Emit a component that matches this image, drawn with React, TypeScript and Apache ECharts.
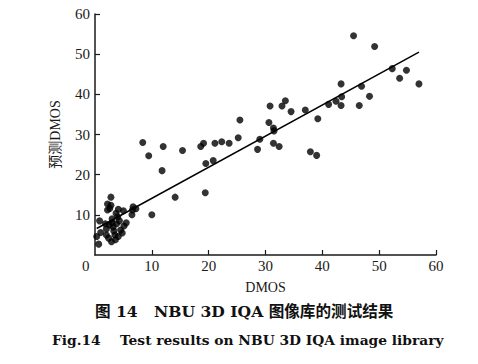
import React, { useEffect, useRef } from "react";
import * as echarts from "echarts";

// DMOS (x) vs predicted DMOS (y) scatter points
const dmos: number[] = [
  0.3, 0.65, 1.0, 0.8, 2.2, 2.8, 2.8, 2.2, 2.6, 4.1, 5.0, 6.5, 7.2, 6.6, 3.7, 5.1, 4.1, 2.9, 2.0, 2.5,
  3.0, 3.3, 3.5, 2.4, 3.8, 4.3, 3.0, 4.5, 3.6, 2.0, 4.8, 3.2, 4.0, 1.8, 5.5, 6.7,
  8.4, 9.45, 12.0, 11.8, 15.4, 14.1, 10.0, 18.6, 19.1, 19.5, 19.4, 20.8, 21.1, 22.3, 23.6, 25.2, 25.5,
  28.6, 29.0, 30.8, 32.9, 33.5, 34.5, 30.6, 31.4, 31.5, 37.0, 39.2, 41.1, 42.4, 43.3, 43.4, 43.3, 46.5,
  31.4, 32.4, 37.9, 39.0, 45.5, 49.2, 52.3, 54.8, 53.6, 57.0, 46.9, 48.3,
];
const predicted: number[] = [
  4.6, 2.7, 5.6, 8.5, 12.7, 12.4, 14.4, 11.2, 11.6, 11.4, 11.0, 10.0, 11.5, 11.2, 10.4, 7.2, 4.6, 3.3, 6.5, 7.5,
  8.0, 6.0, 5.0, 4.2, 7.8, 8.5, 9.0, 6.2, 3.8, 5.0, 5.5, 7.0, 9.5, 7.8, 8.0, 12.0,
  28.0, 24.7, 27.0, 21.0, 26.0, 14.4, 10.0, 27.0, 27.8, 22.8, 15.5, 23.5, 27.8, 28.2, 27.8, 29.2, 33.6,
  26.3, 28.8, 37.1, 37.1, 38.4, 35.7, 33.0, 31.6, 30.9, 36.1, 33.9, 37.5, 38.3, 37.2, 39.4, 42.6, 37.2,
  27.8, 27.0, 25.7, 24.8, 54.6, 51.9, 46.4, 46.0, 44.0, 42.6, 42.0, 39.5,
];
// fitted line end points
const fitX: number[] = [0.3, 57];
const fitY: number[] = [6.6, 50.5];

const axisTicks: number[] = [0, 10, 20, 30, 40, 50, 60];

const captionCN = "图 14   NBU 3D IQA 图像库的测试结果";
const captionEN = "Fig.14    Test results on NBU 3D IQA image library";

const FONT = "'Liberation Serif', 'Times New Roman', serif";
const CAP_FONT = "'DejaVu Serif', 'Noto Sans CJK SC', serif";

export default function App() {
  const ref = useRef<HTMLDivElement>(null);
  useEffect(() => {
    if (!ref.current) return;
    const chart = echarts.init(ref.current, null, { renderer: "svg" });
    const pts = dmos.map((x, i) => [x, predicted[i]]);
    const line = fitX.map((x, i) => [x, fitY[i]]);
    const axisCommon = {
      min: axisTicks[0],
      max: axisTicks[axisTicks.length - 1],
      interval: 10,
      splitLine: { show: false },
      axisLine: { show: true, onZero: false, lineStyle: { color: "#1a1a1a", width: 1.5 } },
      axisTick: { show: true, inside: true, length: 5, lineStyle: { color: "#1a1a1a", width: 1.2 } },
    };
    chart.setOption({
      animation: false,
      backgroundColor: "#fff",
      grid: { left: 95, right: 42, top: 14, bottom: 109 },
      xAxis: {
        type: "value",
        ...axisCommon,
        name: "DMOS",
        nameLocation: "middle",
        nameGap: 25,
        nameTextStyle: { color: "#1a1a1a", fontFamily: FONT, fontSize: 14 },
        axisLabel: { showMinLabel: false, color: "#1a1a1a", fontFamily: FONT, fontSize: 15, margin: 3 },
      },
      yAxis: {
        type: "value",
        ...axisCommon,
        name: "预测DMOS",
        nameLocation: "middle",
        nameGap: 33,
        nameTextStyle: { color: "#1a1a1a", fontFamily: FONT + ", 'Noto Sans CJK SC'", fontSize: 14 },
        axisLabel: { showMinLabel: false, color: "#1a1a1a", fontFamily: FONT, fontSize: 15, margin: 5 },
      },
      graphic: [
        {
          type: "text",
          left: 82,
          top: 258,
          style: { text: "0", fill: "#1a1a1a", font: `15px ${FONT}` },
        },
        {
          type: "text",
          left: 95,
          top: 304,
          style: {
            text: captionCN,
            fill: "#111",
            font: `bold 15.6px ${CAP_FONT}`,
          },
        },
        {
          type: "text",
          left: 52,
          top: 333,
          style: { text: captionEN, fill: "#111", font: `bold 13.8px ${CAP_FONT}` },
        },
      ],
      series: [
        {
          type: "scatter",
          data: pts,
          symbol: "circle",
          symbolSize: 7,
          itemStyle: { color: "#000" },
        },
        {
          type: "line",
          data: line,
          showSymbol: false,
          symbol: "none",
          lineStyle: { color: "#000", width: 1.5 },
        },
      ],
    });
    return () => chart.dispose();
  }, []);
  return (
    <div
      ref={ref}
      style={{ position: "fixed", left: 0, top: 0, width: 478, height: 364 }}
    />
  );
}
